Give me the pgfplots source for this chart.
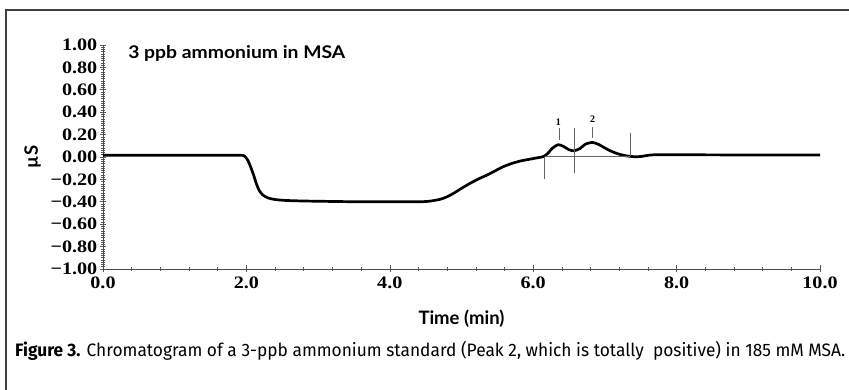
\documentclass[border=0pt]{standalone}
\usepackage{graphicx}
\usepackage{pgfplots}
\pgfplotsset{compat=1.18}
\usepackage{fontspec}
\setmainfont{Liberation Serif}
\newfontfamily\labfont{Lato}
\newfontfamily\capfont{Fira Sans}
\newcommand{\tl}[1]{\scalebox{1.15}[1]{#1}}
\begin{document}
\begin{tikzpicture}
\path[use as bounding box] (0,0) rectangle (849pt,390pt);
\draw[line width=1.6pt, black!75] (6pt,0) -- (6pt,380pt) -- (849pt,380pt);
\begin{axis}[
  at={(103pt,121pt)}, anchor=south west,
  scale only axis, width=717pt, height=224pt,
  xmin=0, xmax=10, ymin=-1, ymax=1,
  axis lines=left,
  axis line style={-, black!70, line width=0.8pt},
  xtick={0,2,4,6,8,10},
  xticklabels={\tl{0.0},\tl{2.0},\tl{4.0},\tl{6.0},\tl{8.0},\tl{10.0}},
  ytick={-1,-0.8,-0.6,-0.4,-0.2,0,0.2,0.4,0.6,0.8,1},
  yticklabels={\tl{−1.00},\tl{−0.80},\tl{−0.60},\tl{−0.40},\tl{−0.20},\tl{0.00},\tl{0.20},\tl{0.40},\tl{0.60},\tl{0.80},\tl{1.00}},
  minor x tick num=4, minor y tick num=9,
  tick align=center,
  major tick length=7pt, minor tick length=4pt,
  every tick/.style={black!65, line width=0.6pt},
  tick label style={font=\fontsize{17.5}{18}\selectfont\bfseries},
  yticklabel style={inner sep=2pt},
  xticklabel style={inner sep=4pt},
  xlabel={Time (min)}, ylabel={µS},
  xlabel style={font=\labfont\bfseries\fontsize{18.5}{19}\selectfont, yshift=-14pt},
  ylabel style={font=\labfont\bfseries\fontsize{18.5}{19}\selectfont, yshift=4pt},
  clip=false,
]
\addplot[black, line width=2.7pt, smooth, tension=0.4] coordinates {
(0.00,0.015) (0.5,0.016) (1.0,0.015) (1.5,0.016) (1.9,0.015)
(1.97,0.010) (2.02,-0.03) (2.06,-0.09) (2.10,-0.16) (2.14,-0.24)
(2.18,-0.30) (2.23,-0.34) (2.30,-0.365) (2.40,-0.38) (2.55,-0.388)
(2.8,-0.393) (3.2,-0.397) (3.6,-0.40) (4.0,-0.40) (4.4,-0.40)
(4.55,-0.395) (4.70,-0.378) (4.80,-0.355) (4.90,-0.32) (5.00,-0.28)
(5.12,-0.235) (5.24,-0.195) (5.36,-0.16) (5.48,-0.12) (5.58,-0.087)
(5.70,-0.058) (5.82,-0.036) (5.95,-0.02) (6.05,-0.008) (6.14,0.003)
(6.20,0.03) (6.27,0.08) (6.35,0.11) (6.42,0.095) (6.50,0.065)
(6.57,0.055) (6.65,0.075) (6.73,0.115) (6.83,0.13) (6.92,0.11)
(7.00,0.08) (7.10,0.048) (7.20,0.025) (7.30,0.01) (7.40,0.003)
(7.50,0.004) (7.60,0.015) (7.70,0.02) (8.0,0.02) (9.0,0.018) (10.0,0.018)
};
% integration markers
\addplot[black!60, line width=0.5pt] coordinates {(6.16,0.003) (6.16,-0.196)};
\addplot[black!60, line width=0.5pt] coordinates {(6.57,0.256) (6.57,-0.14)};
\addplot[black!60, line width=0.5pt] coordinates {(7.35,0.21) (7.35,0.012)};
\addplot[black!60, line width=0.5pt] coordinates {(6.16,0.008) (7.35,0.008)};
\addplot[black!60, line width=0.5pt] coordinates {(6.365,0.256) (6.365,0.152)};
\addplot[black!60, line width=0.5pt] coordinates {(6.83,0.265) (6.83,0.172)};
\node[font=\fontsize{10}{11}\selectfont\bfseries] at (axis cs:6.35,0.315) {1};
\node[font=\fontsize{10}{11}\selectfont\bfseries] at (axis cs:6.83,0.34) {2};
\node[anchor=base west, inner sep=0] at (axis cs:0.35,0.875) {\resizebox{217pt}{\height}{\labfont\bfseries\fontsize{17.5}{18}\selectfont 3 ppb ammonium in MSA}};
\end{axis}
\node[anchor=base west, inner sep=0] at (15pt,33pt) {\resizebox{830pt}{\height}{\capfont\fontsize{18}{20}\selectfont\textbf{Figure 3.} Chromatogram of a 3-ppb ammonium standard (Peak 2, which is totally\ \ positive) in 185 mM MSA.}};
\end{tikzpicture}
\end{document}
